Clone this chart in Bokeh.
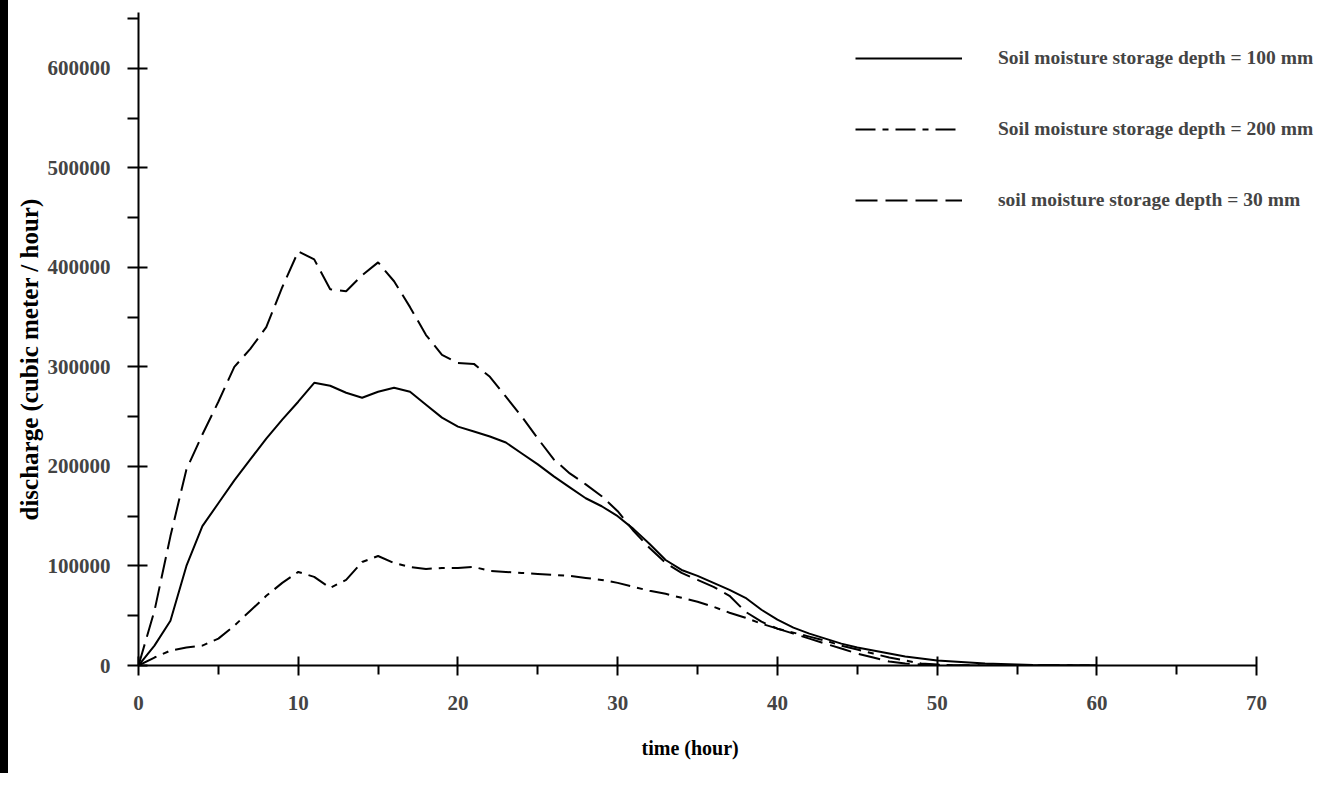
from bokeh.plotting import figure
from bokeh.layouts import row
from bokeh.models import (Range1d, FixedTicker, NumeralTickFormatter, Legend,
                          LegendItem, Div, Title)
from bokeh.embed import file_html
from bokeh.resources import INLINE

# ---------------- data ----------------
hours = list(range(61))

q_100mm = [0, 20000, 45000, 100000, 140000, 163000, 186000, 207000, 228000, 247000,
           265000, 284000, 281000, 274000, 269000, 275000, 279000, 275000, 262000, 249000,
           240000, 235000, 230000, 224000, 213000, 202000, 190000, 179000, 168000, 160000,
           150000, 137000, 122000, 106000, 96000, 90000, 83000, 76000, 68000, 56000,
           46000, 38000, 32000, 27000, 22000, 18000, 15000, 12000, 9000, 7000,
           5000, 4000, 3000, 2000, 1500, 1000, 500, 300, 200, 100, 0]

q_200mm = [0, 8000, 15000, 18000, 20000, 27000, 40000, 55000, 70000, 83000,
           94000, 89000, 78000, 86000, 104000, 110000, 103000, 99000, 97000, 98000,
           98000, 99000, 95000, 94000, 93000, 92000, 91000, 90000, 88000, 86000,
           83000, 79000, 75000, 72000, 68000, 64000, 59000, 53000, 48000, 42000,
           37000, 33000, 29000, 25000, 20000, 16000, 12000, 8000, 5000, 2000,
           1000, 0, 0, 0, 0, 0, 0, 0, 0, 0, 0]

q_30mm = [0, 55000, 130000, 197000, 232000, 265000, 300000, 318000, 340000, 380000,
          416000, 408000, 378000, 376000, 392000, 405000, 386000, 360000, 332000, 312000,
          304000, 303000, 290000, 270000, 250000, 228000, 207000, 193000, 182000, 170000,
          155000, 135000, 118000, 103000, 93000, 86000, 79000, 70000, 54000, 44000,
          37000, 32000, 27000, 22000, 17000, 12000, 8000, 4000, 2000, 1000,
          500, 300, 200, 100, 0, 0, 0, 0, 0, 0, 0]

x_major = [0, 10, 20, 30, 40, 50, 60, 70]
x_minor = [5, 15, 25, 35, 45, 55, 65]
y_major = [0, 100000, 200000, 300000, 400000, 500000, 600000]
y_minor = [50000, 150000, 250000, 350000, 450000, 550000, 650000]

labels = ["Soil moisture storage depth = 100 mm",
          "Soil moisture storage depth = 200 mm",
          "soil moisture storage depth = 30 mm"]
x_title = "time (hour)"
y_title = "discharge (cubic meter / hour)"

FONT = "Liberation Serif"

p = figure(frame_width=1182, frame_height=653,
           min_border_left=130, min_border_right=0,
           min_border_top=12, min_border_bottom=108,
           x_range=Range1d(0, 74.0), y_range=Range1d(0, 656000),
           output_backend="svg", toolbar_location=None)

p.grid.visible = False
p.outline_line_color = None
p.background_fill_color = "white"
p.border_fill_color = "white"

# x axis
xa = p.xaxis[0]
xa.bounds = (0, 70)
xa.ticker = FixedTicker(ticks=x_major, minor_ticks=x_minor)
xa.axis_line_width = 2
xa.major_tick_line_width = 2
xa.minor_tick_line_width = 2
xa.major_tick_in = 9
xa.major_tick_out = 10
xa.minor_tick_in = 0
xa.minor_tick_out = 9
xa.major_label_standoff = 20
xa.major_label_text_font = FONT
xa.major_label_text_font_style = "bold"
xa.major_label_text_font_size = "21px"

# y axis
ya = p.yaxis[0]
ya.bounds = (0, 656000)
ya.ticker = FixedTicker(ticks=y_major, minor_ticks=y_minor)
ya.formatter = NumeralTickFormatter(format="0")
ya.axis_line_width = 2
ya.major_tick_line_width = 2
ya.minor_tick_line_width = 2
ya.major_tick_in = 9
ya.major_tick_out = 11
ya.minor_tick_in = 0
ya.minor_tick_out = 11
ya.major_label_standoff = 17
ya.major_label_text_font = FONT
ya.major_label_text_font_style = "bold"
ya.major_label_text_font_size = "21px"

# axis titles, placed outside the axes so they can be offset like the original
xt = Title(text=x_title, align="left", offset=503, standoff=45,
           text_font=FONT, text_font_style="bold", text_font_size="20px",
           text_color="black")
p.add_layout(xt, "below")

yt = Title(text=y_title, align="left", offset=145, standoff=4,
           text_font=FONT, text_font_style="bold", text_font_size="25px",
           text_color="black")
p.add_layout(yt, "left")

# curves
r100 = p.line(hours, q_100mm, line_color="black", line_width=2)
r200 = p.line(hours, q_200mm, line_color="black", line_width=2, line_dash="20 7 6 7")
r30 = p.line(hours, q_30mm, line_color="black", line_width=2, line_dash="22 8")

legend = Legend(items=[LegendItem(label=labels[0], renderers=[r100]),
                       LegendItem(label=labels[1], renderers=[r200]),
                       LegendItem(label=labels[2], renderers=[r30])],
                location=(717, 453), glyph_width=107, glyph_height=24,
                label_height=24, label_standoff=36, spacing=47,
                padding=0, margin=0, border_line_color=None,
                background_fill_alpha=0,
                label_text_font=FONT, label_text_font_style="bold",
                label_text_font_size="19.5px")
p.add_layout(legend)

# scanned page edge bar on the left
edge = Div(width=8, height=773, margin=0,
           styles={"background-color": "black"})

layout = row(edge, p, spacing=0)

open("out.html", "w").write(file_html(layout, INLINE))
